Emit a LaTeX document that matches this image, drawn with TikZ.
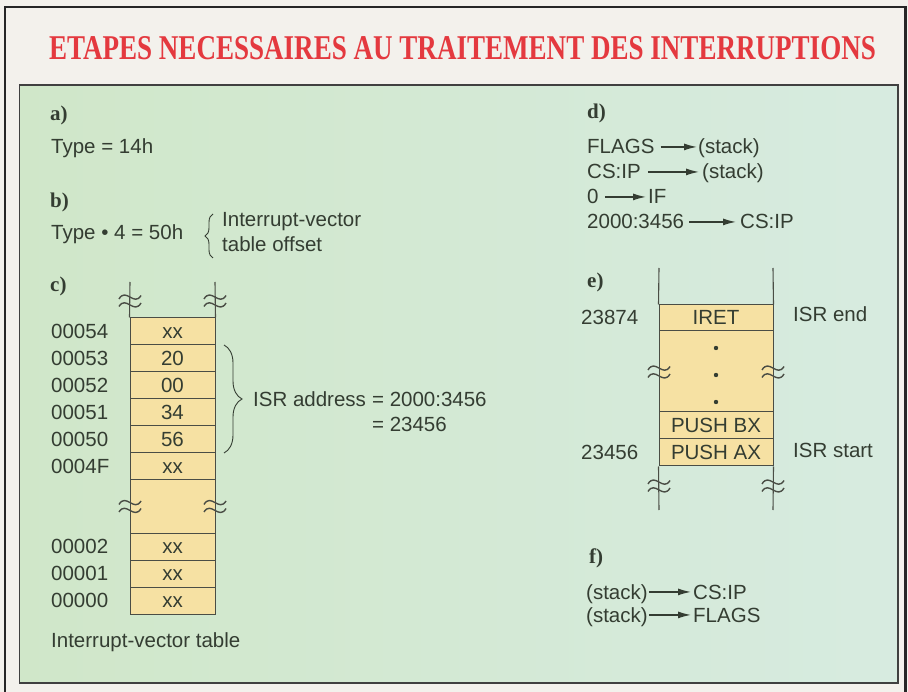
\documentclass[tikz,border=0pt]{standalone}
\usepackage{fontspec}
\usepackage{graphicx}
\setmainfont{Liberation Sans}
\newfontfamily\serifface{Liberation Serif}
\usetikzlibrary{arrows.meta,decorations.pathreplacing}

\definecolor{paper}{HTML}{F3F1EC}
\definecolor{panelL}{HTML}{D0E7C9}
\definecolor{panelR}{HTML}{D7EBE0}
\definecolor{cellfill}{HTML}{F6E1A3}
\definecolor{ink}{HTML}{343D32}
\definecolor{rule}{HTML}{4A4D45}
\definecolor{titlered}{HTML}{E4393F}

\tikzset{
  txt/.style={anchor=base west, inner sep=0pt, text=ink, font=\fontsize{20.5}{22}\selectfont},
  lbl/.style={anchor=base west, inner sep=0pt, text=ink, font=\serifface\bfseries\fontsize{21}{22}\selectfont},
  cellbox/.style={draw=rule, line width=1pt, fill=cellfill, inner sep=0pt, text=ink,
    font=\fontsize{20.5}{22}\selectfont, text height=14pt, text depth=0pt},
  rail/.style={draw=rule, line width=1.1pt},
  arr/.style={draw=ink, line width=1.3pt, -{Latex[length=13pt,width=7pt]}},
  curly/.style={draw=ink, line width=0.9pt, decorate, decoration={brace, amplitude=#1}},
  brk/.pic={
    \draw[rule, line width=1.4pt] (-11,-2) .. controls (-4,-14) and (4,6) .. (11,-5.5);
    \draw[rule, line width=1.4pt] (-11,5.5) .. controls (-4,-6) and (4,14) .. (11,2);
  }
}

\begin{document}
\begin{tikzpicture}[x=1pt,y=-1pt]
\useasboundingbox (0,0) rectangle (908,692);
\fill[paper] (0,0) rectangle (908,692);
\draw[black!85, line width=2.5pt] (5,694) -- (5,7) -- (905.5,7) -- (905.5,694);

\node[inner sep=0pt, text=titlered, font=\serifface\bfseries\fontsize{34}{36}\selectfont] (title) at (462.5,48.5)
  {\resizebox{827pt}{23pt}{ETAPES NECESSAIRES AU TRAITEMENT DES INTERRUPTIONS}};

\shade[left color=panelL, right color=panelR] (19.5,85) rectangle (898,683);
\draw[black!75, line width=1.5pt] (19.5,85) rectangle (898,683);

% a) b)
\node[lbl] (la) at (50,121) {a)};
\node[txt] (ta) at (51,154) {Type = 14h};
\node[lbl] (lb) at (50,207.5) {b)};
\node[txt] (tb) at (51,240) {Type • 4 = 50h};
\coordinate (bb1) at (213,258);
\coordinate (bb2) at (213,214);
\draw[curly=8pt] (bb1) -- (bb2);
\node[txt] (tb1) at (222,227) {Interrupt-vector};
\node[txt] (tb2) at (222,252) {table offset};

% c)
\node[lbl] (lc) at (50,292) {c)};
\node[cellbox, minimum width=85pt, minimum height=27pt] (m54) at (172.5,331.5) {xx};
\node[cellbox, minimum width=85pt, minimum height=27pt] (m53) at (172.5,358.5) {20};
\node[cellbox, minimum width=85pt, minimum height=27pt] (m52) at (172.5,385.5) {00};
\node[cellbox, minimum width=85pt, minimum height=27pt] (m51) at (172.5,412.5) {34};
\node[cellbox, minimum width=85pt, minimum height=27pt] (m50) at (172.5,439.5) {56};
\node[cellbox, minimum width=85pt, minimum height=27pt] (m4F) at (172.5,466.5) {xx};
\node[cellbox, minimum width=85pt, minimum height=53pt] (mgap) at (172.5,506.5) {};
\node[cellbox, minimum width=85pt, minimum height=27pt] (m02) at (172.5,546.5) {xx};
\node[cellbox, minimum width=85pt, minimum height=27pt] (m01) at (172.5,573.5) {xx};
\node[cellbox, minimum width=85pt, minimum height=27pt] (m00) at (172.5,600.5) {xx};

\node[txt] (a54) at (51,338.5) {00054};
\node[txt] (a53) at (51,365.5) {00053};
\node[txt] (a52) at (51,392.5) {00052};
\node[txt] (a51) at (51,419.5) {00051};
\node[txt] (a50) at (51,446.5) {00050};
\node[txt] (a4F) at (51,473.5) {0004F};
\node[txt] (a02) at (51,553.5) {00002};
\node[txt] (a01) at (51,580.5) {00001};
\node[txt] (a00) at (51,607.5) {00000};

\coordinate (ctl) at (130,282);
\coordinate (ctr) at (215,282);
\draw[rail] (ctl) -- (m54.north west);
\draw[rail] (ctr) -- (m54.north east);
\pic at (130,301) {brk};
\pic at (215,301) {brk};
\pic at (130,506.5) {brk};
\pic at (215,506.5) {brk};

\coordinate (ib1) at (224,345);
\coordinate (ib2) at (224,453);
\draw[curly=18pt] (ib1) -- (ib2);
\node[txt] (isra) at (253,407) {ISR address};
\node[txt] (isrb) at ([xshift=5.7pt]isra.base east) {= 2000:3456};
\node[txt] (isrc) at ([yshift=-25pt]isrb.base west) {= 23456};

\node[txt] (ivt) at (51,647) {Interrupt-vector table};

% d)
\node[lbl] (ld) at (587,118.5) {d)};
\node[txt] (d1a) at (587,154) {FLAGS};
\node[txt] (d1b) at (698,154) {(stack)};
\node[txt] (d2a) at (587,179) {CS:IP};
\node[txt] (d2b) at (702,179) {(stack)};
\node[txt] (d3a) at (587,204) {0};
\node[txt] (d3b) at (648,204) {IF};
\node[txt] (d4a) at (587,229) {2000:3456};
\node[txt] (d4b) at (740,229) {CS:IP};
\draw[arr, shorten <=6pt, shorten >=1pt] (d1a.east) -- (d1a.east -| d1b.west);
\draw[arr, shorten <=7pt, shorten >=3pt] (d2a.east) -- (d2a.east -| d2b.west);
\draw[arr, shorten <=6pt, shorten >=2pt] (d3a.east) -- (d3a.east -| d3b.west);
\draw[arr, shorten <=5pt, shorten >=4pt] (d4a.east) -- (d4a.east -| d4b.west);

% e)
\node[lbl] (le) at (587,287.5) {e)};
\node[cellbox, minimum width=114pt, minimum height=26pt] (iret) at (716,318) {IRET};
\node[cellbox, minimum width=114pt, minimum height=81pt] (dots) at (716,371.5) {};
\node[cellbox, minimum width=114pt, minimum height=27pt] (pbx) at (716,425.5) {PUSH BX};
\node[cellbox, minimum width=114pt, minimum height=27pt] (pax) at (716,452.5) {PUSH AX};
\coordinate (etl) at (659,268);
\coordinate (etr) at (773,268);
\coordinate (ebl) at (659,510);
\coordinate (ebr) at (773,510);
\draw[rail] (etl) -- (iret.north west);
\draw[rail] (etr) -- (iret.north east);
\draw[rail] (pax.south west) -- (ebl);
\draw[rail] (pax.south east) -- (ebr);
\fill[ink] (716,348) circle (2.2pt);
\fill[ink] (716,375) circle (2.2pt);
\fill[ink] (716,402) circle (2.2pt);
\pic at (659,372) {brk};
\pic at (773,372) {brk};
\pic at (659,486) {brk};
\pic at (773,486) {brk};
\node[txt] (e1) at (581,325) {23874};
\node[txt] (e2) at (793,322) {ISR end};
\node[txt] (e3) at (581,460) {23456};
\node[txt] (e4) at (793,457) {ISR start};

% f)
\node[lbl] (lf) at (589,563.5) {f)};
\node[txt] (f1a) at (586,599) {(stack)};
\node[txt] (f1b) at (693,599) {CS:IP};
\node[txt] (f2a) at (586,622) {(stack)};
\node[txt] (f2b) at (693,622) {FLAGS};
\draw[arr, shorten <=1pt, shorten >=2pt] (f1b.west -| f1a.east) -- (f1b.west);
\draw[arr, shorten <=1pt, shorten >=2pt] (f2b.west -| f2a.east) -- (f2b.west);
\end{tikzpicture}
\end{document}
